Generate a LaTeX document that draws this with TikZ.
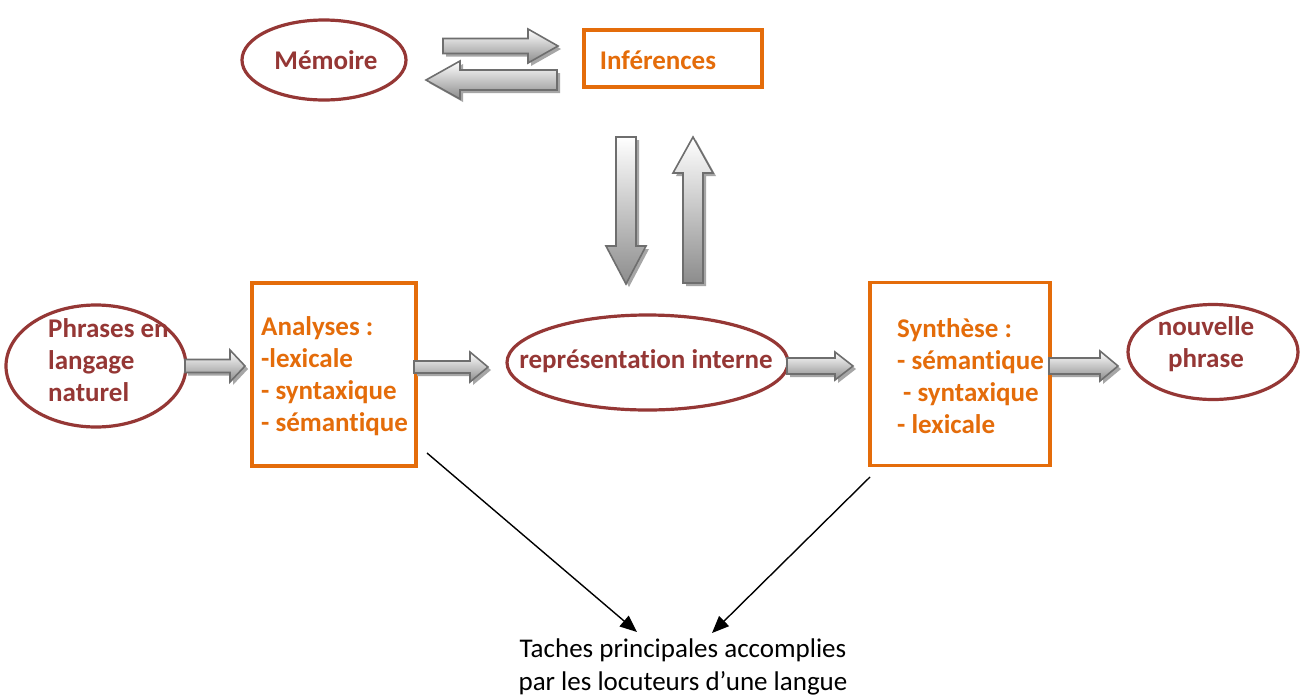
\documentclass[tikz,border=0pt]{standalone}
\usepackage{fontspec}
\setmainfont{Carlito}[Ligatures={NoCommon}]
\usetikzlibrary{shapes.geometric,arrows.meta,calc}
\definecolor{dred}{HTML}{953735}
\definecolor{orng}{HTML}{E46C0A}
\definecolor{agray}{HTML}{6E6E6E}
\tikzset{
  ell/.style={draw=dred, line width=3.2pt, ellipse, inner sep=0pt},
  rbox/.style={draw=orng, line width=3.4pt, inner sep=0pt},
  redtxt/.style={text=dred, font=\fontsize{27}{32}\selectfont\bfseries, inner sep=0pt, align=left},
  ortxt/.style={text=orng, font=\fontsize{27}{32}\selectfont\bfseries, inner sep=0pt, align=left},
  blocksh/.style={fill=black!35},
  blockar/.style={draw=agray, line width=1.6pt, top color=white, bottom color=black!45},
  conn/.style={line width=1.4pt, -{Triangle[length=17pt,width=14pt]}},
}
% right-pointing block arrow: x1, x2 (tip), yc, shaft half, head half, head length
\newcommand\myRarrow[6]{%
  \fill[blocksh] ({#1+3},{#3-#4+3}) -- ({#2-#6+3},{#3-#4+3}) -- ({#2-#6+3},{#3-#5+3}) -- ({#2+3},{#3+3}) -- ({#2-#6+3},{#3+#5+3}) -- ({#2-#6+3},{#3+#4+3}) -- ({#1+3},{#3+#4+3}) -- cycle;
  \draw[blockar] (#1,{#3-#4}) -- ({#2-#6},{#3-#4}) -- ({#2-#6},{#3-#5}) -- (#2,#3) -- ({#2-#6},{#3+#5}) -- ({#2-#6},{#3+#4}) -- (#1,{#3+#4}) -- cycle;}
% left-pointing block arrow: x1 (tip), x2, yc, shaft half, head half, head length
\newcommand\myLarrow[6]{%
  \fill[blocksh] ({#2+3},{#3-#4+3}) -- ({#1+#6+3},{#3-#4+3}) -- ({#1+#6+3},{#3-#5+3}) -- ({#1+3},{#3+3}) -- ({#1+#6+3},{#3+#5+3}) -- ({#1+#6+3},{#3+#4+3}) -- ({#2+3},{#3+#4+3}) -- cycle;
  \draw[blockar] (#2,{#3-#4}) -- ({#1+#6},{#3-#4}) -- ({#1+#6},{#3-#5}) -- (#1,#3) -- ({#1+#6},{#3+#5}) -- ({#1+#6},{#3+#4}) -- (#2,{#3+#4}) -- cycle;}
% down block arrow: xc, y1 (top), y2 (tip), shaft half, head half, head length
\newcommand\myDarrow[6]{%
  \fill[blocksh] ({#1-#4+3},{#2+3}) -- ({#1-#4+3},{#3-#6+3}) -- ({#1-#5+3},{#3-#6+3}) -- ({#1+3},{#3+3}) -- ({#1+#5+3},{#3-#6+3}) -- ({#1+#4+3},{#3-#6+3}) -- ({#1+#4+3},{#2+3}) -- cycle;
  \draw[blockar] ({#1-#4},#2) -- ({#1-#4},{#3-#6}) -- ({#1-#5},{#3-#6}) -- (#1,#3) -- ({#1+#5},{#3-#6}) -- ({#1+#4},{#3-#6}) -- ({#1+#4},#2) -- cycle;}
% up block arrow: xc, y1 (tip), y2 (bottom), shaft half, head half, head length
\newcommand\myUarrow[6]{%
  \fill[blocksh] ({#1-#4+3},{#3+3}) -- ({#1-#4+3},{#2+#6+3}) -- ({#1-#5+3},{#2+#6+3}) -- ({#1+3},{#2+3}) -- ({#1+#5+3},{#2+#6+3}) -- ({#1+#4+3},{#2+#6+3}) -- ({#1+#4+3},{#3+3}) -- cycle;
  \draw[blockar] ({#1-#4},#3) -- ({#1-#4},{#2+#6}) -- ({#1-#5},{#2+#6}) -- (#1,#2) -- ({#1+#5},{#2+#6}) -- ({#1+#4},{#2+#6}) -- ({#1+#4},#3) -- cycle;}
\begin{document}
\begin{tikzpicture}[x=1pt,y=-1pt]
\useasboundingbox (0,0) rectangle (1304,697);
\fill[white] (0,0) rectangle (1304,697);

% top row
\node[ell, minimum width=164pt, minimum height=80pt] (memE) at (324,60) {};
\node[redtxt] (mem) at (326,60) {Mémoire};
\node[rbox, minimum width=178pt, minimum height=57pt] (infB) at (673,58.5) {};
\node[ortxt] (inf) at (658,60) {Inférences};

\myRarrow{443}{558}{46}{7.5}{17}{30}
\myLarrow{426}{557}{80}{10}{19}{34}

\myDarrow{626}{137}{284}{10}{20}{38}
\myUarrow{693}{137}{283}{10}{20}{36}

% middle row
\node[ell, minimum width=180pt, minimum height=122pt] (phrE) at (96,366) {};
\node[redtxt, anchor=west] (phr) at (48,360) {Phrases en\\langage\\naturel};

\node[rbox, minimum width=164pt, minimum height=183pt] (anaB) at (334,374.5) {};
\node[ortxt, anchor=west] (ana) at (261,376) {Analyses :\\-lexicale\\- syntaxique\\- sémantique};

\node[ell, minimum width=281pt, minimum height=95pt] (repE) at (647.5,362.5) {};
\node[redtxt] (rep) at (646,361) {représentation interne};

\node[rbox, minimum width=180pt, minimum height=183pt] (synB) at (960,374) {};
\node[ortxt, anchor=west] (syn) at (897,376) {Synthèse :\\- sémantique\\\hspace{6pt}- syntaxique\\- lexicale};

\myRarrow{185}{245}{366}{6.5}{16}{15}
\myRarrow{414}{488}{367}{6}{15}{18}
\myRarrow{787}{853}{366}{8}{14}{18}
\myRarrow{1049}{1118}{366}{8}{15}{18}

\node[ell, minimum width=170pt, minimum height=95pt] (nouE) at (1213,352) {};
\node[redtxt, align=center] (nou) at (1206,344) {nouvelle\\phrase};

% bottom
\node[font=\fontsize{27}{33}\selectfont, align=center, inner sep=0pt] (tach) at (683,667) {Taches principales accomplies\\par les locuteurs d’une langue};
\coordinate (c1) at (427,453);
\coordinate (c2) at (870,477);
\coordinate (t1) at (637,632);
\coordinate (t2) at (712,633);
\draw[conn] (c1) -- (t1);
\draw[conn] (c2) -- (t2);
\end{tikzpicture}
\end{document}
